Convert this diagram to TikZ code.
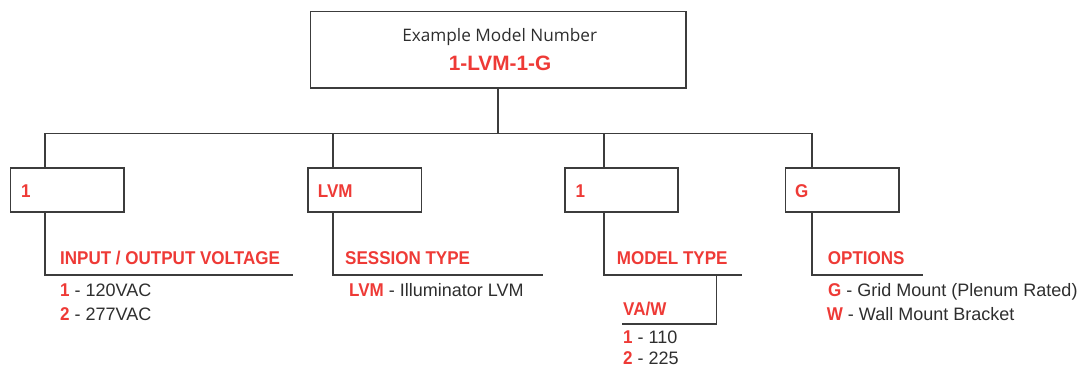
\documentclass[tikz,border=0pt]{standalone}
\usepackage{fontspec}
\setmainfont{Liberation Sans}
\newfontfamily\titlefont{Open Sans}
\newfontfamily\cond[FakeStretch=0.92]{Liberation Sans}
\definecolor{lred}{HTML}{EE3A36}
\definecolor{ltxt}{HTML}{2E2E2E}
\definecolor{lline}{HTML}{3C3C3C}
\newcommand{\rc}[1]{\textcolor{lred}{\cond\bfseries\fontsize{18.5}{21}\selectfont #1}}
\begin{document}
\begin{tikzpicture}[x=1pt,y=-1pt,
  conn/.style={draw=lline,line width=1.5pt},
  box/.style={draw=lline,line width=1.5pt,rectangle,inner sep=0pt},
  code/.style={anchor=base west,inner sep=0pt,text=lred,font=\cond\fontsize{18.5}{21}\selectfont\bfseries},
  head/.style={anchor=base west,inner sep=0pt,text=lred,font=\cond\fontsize{18.5}{21}\selectfont\bfseries},
  item/.style={anchor=base west,inner sep=0pt,text=ltxt,font=\fontsize{18}{21}\selectfont}]
\useasboundingbox (0,0) rectangle (1082,366);
% top box
\node[box,minimum width=375.5pt,minimum height=76.5pt] (top) at (498,50) {};
\node[anchor=base,inner sep=0pt,text=ltxt,font=\titlefont\fontsize{17.2}{20}\selectfont] (ttl) at (499.7,41.7) {Example Model Number};
\node[anchor=base,inner sep=0pt,text=lred,font=\fontsize{20.8}{24}\selectfont\bfseries] (num) at (500,70.7) {1-LVM-1-G};
% bus
\coordinate (busL) at (45,133.5);
\coordinate (busR) at (812,133.5);
\draw[conn] (top.south) -- (top.south |- busL);
\draw[conn] (busL) -- (busR);
% boxes
\node[box,minimum width=113.3pt,minimum height=44.3pt] (b1) at (67.3,190) {};
\node[box,minimum width=113.7pt,minimum height=44.3pt] (b2) at (364.8,190) {};
\node[box,minimum width=113pt,minimum height=44.3pt] (b3) at (621.5,190) {};
\node[box,minimum width=113.3pt,minimum height=44.3pt] (b4) at (842.3,190) {};
\node[code] (c1) at (21,198) {1};
\node[code] (c2) at (317.7,198) {LVM};
\node[code] (c3) at (575.5,198) {1};
\node[code] (c4) at (795,198) {G};
% underline coordinates
\coordinate (u1L) at (45,275);   \coordinate (u1R) at (293,275);
\coordinate (u2L) at (333,275);  \coordinate (u2R) at (542.7,275);
\coordinate (u3L) at (604,275);  \coordinate (u3R) at (741.7,275);
\coordinate (u4L) at (812,275);  \coordinate (u4R) at (922.7,275);
\coordinate (vaT) at (716.7,275); \coordinate (vaB) at (716.7,324);
\coordinate (vaL) at (621.7,324);
% connectors
\draw[conn] (busL) -- (b1.north -| busL);
\draw[conn] (u2L |- busL) -- (b2.north -| u2L);
\draw[conn] (u3L |- busL) -- (b3.north -| u3L);
\draw[conn] (busR) -- (b4.north -| busR);
\draw[conn] (b1.south -| u1L) -- (u1L) -- (u1R);
\draw[conn] (b2.south -| u2L) -- (u2L) -- (u2R);
\draw[conn] (b3.south -| u3L) -- (u3L) -- (u3R);
\draw[conn] (b4.south -| u4L) -- (u4L) -- (u4R);
\draw[conn] (vaT) -- (vaB) -- (vaL);
% headings
\node[head] (h1) at (60,265) {INPUT / OUTPUT VOLTAGE};
\node[head] (h2) at (345,265) {SESSION TYPE};
\node[head] (h3) at (616.7,265) {MODEL TYPE};
\node[head] (h4) at (827.7,265) {OPTIONS};
\node[head] (h5) at (623,315) {VA/W};
% items
\node[item] (i11) at (60,297) {\rc{1} - 120VAC};
\node[item] (i12) at (60,320) {\rc{2} - 277VAC};
\node[item] (i21) at (349,297) {\rc{LVM} - Illuminator LVM};
\node[item] (i31) at (623,343) {\rc{1} - 110};
\node[item] (i32) at (623,364) {\rc{2} - 225};
\node[item] (i41) at (828,297) {\rc{G} - Grid Mount (Plenum Rated)};
\node[item] (i42) at (826.7,320) {\rc{W} - Wall Mount Bracket};
\end{tikzpicture}
\end{document}
